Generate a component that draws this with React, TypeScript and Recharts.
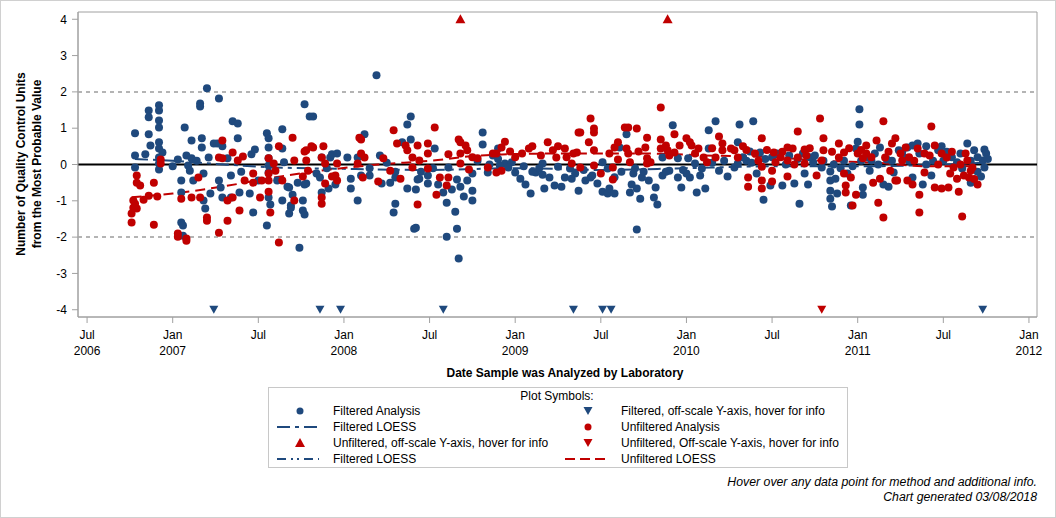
import { ComposedChart, Line, ReferenceArea, ReferenceLine, Scatter, XAxis, YAxis } from "recharts";

const FONT = '"Liberation Sans", Arial, sans-serif';
const BLUE = "#1f497d";
const RED = "#c00000";

// decimal year, units from most probable value
const filteredAnalysis: [number, number][] = [
  [2006.78, 0.86], [2006.78, 0.25], [2006.78, -0.08], [2006.84, 0.28], [2006.86, 1.49], [2006.86, 1.3],
  [2006.86, 0.83], [2006.87, 0.52], [2006.92, 1.63], [2006.92, 1.49], [2006.92, 1.21], [2006.92, 1.02],
  [2006.92, 0.61], [2006.92, 0.44], [2006.92, 0.19], [2006.92, 0.03], [2006.92, -0.14], [2006.94, 0.33],
  [2007.03, 0.14], [2007.07, 1.02], [2007.05, -0.44], [2007.05, -0.77], [2007.05, -1.6], [2007.06, -1.68],
  [2007.06, -1.96], [2007.08, 0.25], [2007.09, -0.03], [2007.1, -0.17], [2007.11, 0.66], [2007.11, 0.17],
  [2007.12, -0.44], [2007.16, 1.68], [2007.16, 1.6], [2007.17, 0.72], [2007.17, 0.47], [2007.18, -0.25],
  [2007.18, -0.99], [2007.19, -1.21], [2007.2, 2.1], [2007.21, 0.19], [2007.22, -0.8], [2007.24, 0.58],
  [2007.26, 0.58], [2007.27, 1.82], [2007.27, -0.44], [2007.28, -0.63], [2007.29, 0.5], [2007.29, -0.91],
  [2007.32, 0.17], [2007.34, -0.3], [2007.34, -0.91], [2007.35, 1.19], [2007.38, 1.13], [2007.38, 0.72],
  [2007.39, -0.77], [2007.45, -0.8], [2007.47, -1.32], [2007.46, 0.28], [2007.48, 0.41], [2007.5, -0.44],
  [2007.55, -1.68], [2007.55, 0.86], [2007.56, 0.72], [2007.56, 0.47], [2007.56, 0.17], [2007.56, -0.91],
  [2007.57, -1.1], [2007.61, -0.44], [2007.64, 0.97], [2007.64, 0.44], [2007.64, -0.99], [2007.65, 0.06],
  [2007.68, -1.35], [2007.68, -0.63], [2007.69, -1.13], [2007.7, -0.83], [2007.74, -2.29], [2007.76, -0.99],
  [2007.76, -1.27], [2007.77, 1.66], [2007.78, -0.52], [2007.8, 1.32], [2007.82, 1.32], [2007.84, -0.25],
  [2007.87, 0.19], [2007.87, -0.77], [2007.92, 0.19], [2007.93, 0.28], [2007.96, 0.3], [2008.02, 0.19],
  [2008.04, -0.66], [2008.08, -0.99], [2008.19, 2.46], [2007.56, -0.03], [2007.56, -0.22], [2007.67, -0.61],
  [2007.69, -1.19], [2007.86, -0.36], [2007.91, -0.66], [2008.04, -0.39], [2008.08, 0.19], [2008.12, 0.83],
  [2008.15, -0.3], [2008.22, -0.52], [2008.21, 0.25], [2008.27, -0.5], [2008.3, -1.08], [2008.29, -1.32],
  [2008.34, 0.61], [2008.37, 1.1], [2008.39, 1.32], [2008.39, 0.69], [2008.42, -0.69], [2008.41, -1.77],
  [2008.43, -0.41], [2008.37, -0.66], [2008.3, -0.36], [2007.77, -1.38], [2007.77, -0.55], [2007.73, -0.5],
  [2008.81, 0.88], [2008.81, 0.55], [2008.53, 0.44], [2008.42, -1.74], [2008.6, -1.99], [2008.66, -1.77],
  [2008.67, -2.59], [2008.65, -1.3], [2008.6, -1.05], [2008.58, -0.77], [2008.63, -0.69], [2008.7, -0.88],
  [2008.75, -0.99], [2008.75, -0.72], [2008.68, -0.61], [2008.72, -0.44], [2008.66, -0.41], [2008.61, -0.08],
  [2008.55, -0.55], [2008.49, -0.52], [2008.44, -0.39], [2008.49, -0.3], [2008.75, -0.25], [2008.84, -0.22],
  [2008.87, 0.25], [2008.9, 0.44], [2008.94, 0.03], [2008.98, 0.06], [2009.0, -0.22], [2009.03, -0.39],
  [2009.06, -0.55], [2009.09, -0.8], [2009.12, -0.22], [2009.16, -0.28], [2009.17, -0.66], [2009.2, -0.36],
  [2009.23, -0.58], [2009.27, -0.61], [2009.29, -0.36], [2009.32, -0.11], [2009.37, -0.72], [2009.33, -0.39],
  [2009.16, 0.03], [2009.25, -0.06], [2008.91, -0.03], [2008.96, -0.08], [2009.35, -0.25], [2009.41, -0.44],
  [2009.44, -0.36], [2009.48, -0.52], [2009.51, -0.75], [2009.54, -0.8], [2009.55, -0.66], [2009.58, -0.8],
  [2009.51, 0.06], [2009.54, -0.11], [2009.61, 0.47], [2009.65, 0.83], [2009.67, -0.77], [2009.68, -0.55],
  [2009.71, -0.66], [2009.71, -1.79], [2009.73, -0.94], [2009.69, -0.25], [2009.74, -0.36], [2009.78, -0.44],
  [2009.81, -0.91], [2009.83, -1.1], [2009.82, -0.63], [2009.86, -0.3], [2009.86, 0.19], [2009.92, 1.08],
  [2009.9, -0.17], [2009.95, 0.17], [2009.95, -0.36], [2009.97, -0.63], [2010.01, 0.17], [2010.02, -0.36],
  [2010.05, 0.03], [2010.06, -0.77], [2010.11, -0.66], [2010.09, -0.11], [2010.13, 0.44], [2010.13, 0.94],
  [2010.17, 1.19], [2010.19, -0.17], [2010.24, -0.33], [2010.3, 0.61], [2010.28, -0.08], [2010.31, 1.1],
  [2010.39, 1.19], [2010.3, 0.03], [2010.37, 0.36], [2010.43, 0.33], [2010.41, -0.25], [2010.45, -0.97],
  [2010.49, -0.58], [2010.56, -0.58], [2010.63, -0.52], [2010.66, -1.08], [2010.69, -0.25], [2010.71, -0.55],
  [2010.74, 0.06], [2010.79, -0.08], [2010.84, -0.19], [2010.84, -0.44], [2010.84, -0.72], [2010.84, -0.94],
  [2010.85, -1.16], [2010.88, -0.8], [2010.87, -0.39], [2010.94, -0.25], [2010.96, -1.13], [2010.99, 0.44],
  [2011.0, 0.63], [2011.01, 1.52], [2011.01, 1.1], [2011.03, -0.63], [2011.03, -0.83], [2011.07, -0.17],
  [2011.08, 0.11], [2011.13, 0.47], [2011.15, -0.55], [2011.18, -0.61], [2011.21, -0.22], [2011.24, 0.39],
  [2011.17, 0.14], [2011.29, 0.47], [2011.32, 0.52], [2011.35, 0.58], [2011.4, 0.5], [2011.32, -0.36],
  [2011.38, -0.55], [2011.43, -0.3], [2011.49, 0.5], [2011.47, 0.39], [2011.58, 0.06], [2011.64, 0.58],
  [2011.68, 0.39], [2011.74, 0.41], [2011.72, -0.33], [2011.74, -0.08], [2011.73, 0.11], [2011.66, -0.5],
  [2011.61, -0.11], [2007.0, -0.05], [2007.14, 0.1], [2007.4, -0.2], [2007.9, -0.1], [2008.15, -0.1],
  [2008.25, 0.05], [2008.45, -0.2], [2008.52, -0.1], [2008.78, 0.1], [2008.85, 0.0], [2009.05, -0.05],
  [2009.14, -0.1], [2009.4, -0.15], [2009.62, -0.2], [2009.7, -0.1], [2009.88, -0.2], [2010.0, -0.25],
  [2010.08, -0.3], [2010.22, 0.1], [2010.35, 0.1], [2010.5, 0.2], [2010.6, 0.25], [2010.72, 0.2],
  [2010.9, -0.1], [2011.05, 0.2], [2011.27, 0.2], [2011.4, 0.0], [2011.5, 0.1], [2011.55, 0.2],
  [2011.7, 0.2], [2011.75, 0.3], [2010.33, 0.2], [2010.38, 0.05], [2010.46, 0.15], [2010.53, 0.3],
  [2010.58, 0.0], [2010.65, 0.15], [2010.68, 0.3], [2010.75, 0.25], [2010.8, 0.1], [2010.86, 0.0],
  [2010.92, 0.1], [2010.97, -0.05], [2011.02, 0.1], [2011.1, 0.3], [2011.12, 0.0], [2011.2, 0.1],
  [2011.26, 0.35], [2011.3, 0.1], [2011.36, 0.3], [2011.44, 0.1], [2011.52, 0.35], [2011.6, 0.3],
  [2011.66, 0.1], [2011.7, -0.2], [2011.76, 0.15], [2009.45, -0.3], [2009.58, -0.35], [2009.75, -0.2],
  [2009.98, -0.15], [2010.15, 0.05], [2008.9, 0.15], [2009.1, -0.2], [2008.3, -0.2], [2008.1, -0.3],
  [2007.95, -0.55],
];

const unfilteredAnalysis: [number, number][] = [
  [2006.76, -1.35], [2006.76, -1.6], [2006.77, -1.19], [2006.77, -0.99], [2006.78, -1.08], [2006.79, -1.21],
  [2006.79, -0.3], [2006.79, -0.5], [2006.81, -0.58], [2006.83, -0.97], [2006.86, -0.86], [2006.89, -0.5],
  [2006.89, -1.66], [2006.91, -0.88], [2006.93, 0.14], [2006.93, 0.03], [2007.03, -1.9], [2007.03, -1.99],
  [2007.05, -0.94], [2007.08, -2.04], [2007.08, -2.1], [2007.11, -0.91], [2007.15, -0.36], [2007.16, -0.91],
  [2007.2, -1.46], [2007.2, -1.55], [2007.27, 0.19], [2007.27, -1.88], [2007.29, 0.66], [2007.29, 0.17],
  [2007.32, -0.99], [2007.32, -1.55], [2007.35, 0.33], [2007.35, -0.91], [2007.38, 0.11], [2007.39, -1.27],
  [2007.41, 0.22], [2007.42, -0.44], [2007.47, -0.25], [2007.47, -0.5], [2007.51, -0.91], [2007.52, -0.44],
  [2007.56, 0.17], [2007.56, -0.25], [2007.56, -0.44], [2007.56, -0.75], [2007.57, -1.32], [2007.59, 0.03],
  [2007.6, -0.17], [2007.62, 0.5], [2007.62, -2.15], [2007.64, -0.44], [2007.7, 0.74], [2007.71, 0.11],
  [2007.71, -0.99], [2007.76, -0.33], [2007.77, 0.36], [2007.78, 0.11], [2007.79, -0.17], [2007.82, 0.47],
  [2007.87, 0.19], [2007.87, -0.91], [2007.87, -1.08], [2007.88, 0.5], [2007.89, 0.03], [2007.89, -0.52],
  [2007.93, -0.33], [2007.96, -0.44], [2007.96, 0.03], [2008.08, 0.03], [2008.09, 0.74], [2007.81, 0.5],
  [2007.78, 0.39], [2007.95, -0.3], [2008.1, 0.69], [2008.1, 0.3], [2008.12, 0.19], [2008.11, -0.36],
  [2008.2, -0.47], [2008.23, 0.17], [2008.27, -0.17], [2008.29, 0.94], [2008.31, 0.58], [2008.33, -0.39],
  [2008.36, 0.52], [2008.37, 0.39], [2008.4, 0.19], [2008.43, 0.52], [2008.43, -1.1], [2008.4, -0.08],
  [2008.53, 1.02], [2008.49, 0.58], [2008.49, 0.3], [2008.44, 0.11], [2008.54, -0.83], [2008.49, -0.11],
  [2008.56, -0.36], [2008.6, -0.58], [2008.61, -0.36], [2008.61, 0.28], [2008.67, 0.69], [2008.68, 0.61],
  [2008.71, 0.52], [2008.72, 0.39], [2008.68, 0.3], [2008.68, 0.03], [2008.73, -0.14], [2008.78, 0.17],
  [2008.87, 0.3], [2008.89, 0.3], [2008.92, 0.47], [2008.94, 0.63], [2008.97, 0.36], [2009.04, 0.3],
  [2009.08, 0.44], [2009.1, 0.5], [2009.19, 0.61], [2009.22, 0.39], [2009.25, 0.5], [2009.24, 0.19],
  [2009.29, 0.44], [2009.33, 0.03], [2009.34, 0.3], [2009.37, 0.88], [2008.84, -0.08], [2008.89, -0.22],
  [2008.92, -0.17], [2009.36, 0.33], [2009.38, -0.08], [2009.38, 0.88], [2009.44, 1.27], [2009.46, 0.88],
  [2009.46, 0.99], [2009.43, 0.61], [2009.46, 0.39], [2009.46, -0.03], [2009.5, -0.25], [2009.57, -0.41],
  [2009.57, -0.08], [2009.58, 0.47], [2009.6, 0.61], [2009.6, 0.14], [2009.64, 1.02], [2009.66, 1.02],
  [2009.65, 0.44], [2009.66, 0.3], [2009.67, 0.06], [2009.71, 0.99], [2009.72, 0.36], [2009.76, 0.47],
  [2009.77, 0.74], [2009.77, 0.17], [2009.77, 0.03], [2009.79, 0.06], [2009.85, 1.57], [2009.85, 0.69],
  [2009.85, 0.44], [2009.88, 0.52], [2009.89, 0.39], [2009.93, 0.83], [2009.93, 0.33], [2009.96, 0.52],
  [2010.0, 0.72], [2010.02, 0.61], [2010.03, 0.52], [2010.07, 0.44], [2010.1, 0.19], [2010.12, 0.06],
  [2010.17, 0.19], [2010.19, 0.77], [2010.21, 0.58], [2010.21, 0.39], [2010.26, 0.44], [2010.28, 0.39],
  [2010.33, 0.5], [2010.3, 0.19], [2010.36, -0.36], [2010.36, -0.61], [2010.44, 0.72], [2010.44, -0.06],
  [2010.44, -0.44], [2010.44, -0.66], [2010.51, 0.33], [2010.52, 0.06], [2010.5, -0.17], [2010.5, -0.47],
  [2010.59, 0.47], [2010.59, 0.11], [2010.59, -0.33], [2010.62, 0.44], [2010.65, 0.91], [2010.65, 0.19],
  [2010.69, 0.41], [2010.69, 0.03], [2010.76, -0.3], [2010.78, 1.27], [2010.79, 0.11], [2010.8, 0.39],
  [2010.8, 0.72], [2010.89, 0.58], [2010.89, 0.19], [2010.92, 0.33], [2010.92, -0.25], [2010.93, -0.58],
  [2010.93, -0.77], [2010.96, -0.36], [2010.97, -1.13], [2010.99, -0.83], [2011.0, 0.3], [2011.03, 0.17],
  [2011.05, 0.52], [2011.09, -0.5], [2011.11, 0.66], [2011.12, -1.05], [2011.13, -0.39], [2011.15, 1.19],
  [2011.15, -1.46], [2011.16, 0.19], [2011.2, 0.58], [2011.22, -0.44], [2011.22, 0.72], [2011.19, -0.17],
  [2011.43, 1.05], [2011.28, 0.47], [2011.35, 0.44], [2011.39, 0.3], [2011.45, 0.52], [2011.49, 0.3],
  [2011.52, 0.19], [2011.26, 0.11], [2011.23, -0.44], [2011.29, -0.44], [2011.32, -0.55], [2011.36, -0.83],
  [2011.36, -1.32], [2011.39, -0.22], [2011.45, -0.63], [2011.49, -0.66], [2011.53, -0.63], [2011.54, -0.25],
  [2011.56, -0.08], [2011.58, -0.39], [2011.59, -0.75], [2011.61, -1.43], [2011.63, 0.3], [2011.64, 0.11],
  [2011.66, -0.17], [2011.65, -0.36], [2011.67, -0.08], [2008.75, 0.2], [2009.0, 0.2], [2009.15, 0.25],
  [2010.4, 0.3], [2010.55, 0.2], [2010.7, 0.25], [2011.05, 0.3], [2011.3, 0.2], [2011.6, 0.0],
  [2010.35, 0.4], [2010.42, 0.1], [2010.47, 0.4], [2010.56, 0.35], [2010.63, 0.0], [2010.72, 0.45],
  [2010.85, 0.35], [2010.95, 0.45], [2011.02, 0.4], [2011.08, 0.2], [2011.18, 0.35], [2011.25, 0.3],
  [2011.33, 0.1], [2011.42, 0.25], [2011.47, 0.0], [2011.55, 0.35], [2011.62, -0.3], [2011.68, -0.4],
  [2011.7, -0.55], [2009.3, 0.2], [2009.55, 0.3], [2009.9, 0.25], [2010.05, 0.3], [2010.15, 0.45],
];

const filteredLoess: [number, number][] = [
  [2006.78, 0.15], [2007.0, 0.1], [2007.3, 0.0], [2007.6, -0.08], [2008.0, -0.12], [2008.5, -0.15],
  [2009.0, -0.1], [2009.5, -0.15], [2010.0, -0.1], [2010.5, -0.05], [2011.0, -0.05], [2011.5, 0.0], [2011.75, 0.05],
];

const unfilteredLoess: [number, number][] = [
  [2006.76, -0.9], [2007.0, -0.8], [2007.3, -0.6], [2007.6, -0.35], [2007.9, -0.15], [2008.2, 0.0],
  [2008.5, 0.1], [2008.8, 0.25], [2009.2, 0.3], [2009.5, 0.3], [2009.8, 0.3], [2010.1, 0.25],
  [2010.5, 0.2], [2010.8, 0.1], [2011.1, 0.05], [2011.4, -0.05], [2011.67, -0.05],
];

// off-scale points, pinned to the axis limits
const unfilteredHigh: [number, number][] = [[2008.68, 4], [2009.89, 4]];
const filteredLow: [number, number][] = [
  [2007.24, -4], [2007.86, -4], [2007.98, -4], [2008.58, -4], [2009.34, -4], [2009.51, -4], [2009.56, -4], [2011.73, -4],
];
const unfilteredLow: [number, number][] = [[2010.79, -4]];

const xTicks = [2006.5, 2007, 2007.5, 2008, 2008.5, 2009, 2009.5, 2010, 2010.5, 2011, 2011.5, 2012];
const xTickMonths = ["Jul", "Jan", "Jul", "Jan", "Jul", "Jan", "Jul", "Jan", "Jul", "Jan", "Jul", "Jan"];
const xTickYears = ["2006", "2007", "", "2008", "", "2009", "", "2010", "", "2011", "", "2012"];
const yTicks = [-4, -3, -2, -1, 0, 1, 2, 3, 4];

const toPoints = (rows: [number, number][]) => rows.map(([x, y]) => ({ x, y }));

const DateTick = ({ x, y, payload }: any) => {
  const i = xTicks.indexOf(payload.value);
  return (
    <g fontFamily={FONT} fontSize={12} fill="#000" textAnchor="middle">
      <text x={x} y={y + 12}>{xTickMonths[i]}</text>
      <text x={x} y={y + 28}>{xTickYears[i]}</text>
    </g>
  );
};

const dot = (color: string) => (p: any) => <circle cx={p.cx} cy={p.cy} r={4} fill={color} />;
const triUp = (color: string) => (p: any) => (
  <path d={`M${p.cx},${p.cy - 5} L${p.cx + 5},${p.cy + 4} L${p.cx - 5},${p.cy + 4} Z`} fill={color} />
);
const triDown = (color: string) => (p: any) => (
  <path d={`M${p.cx - 4.5},${p.cy - 4} L${p.cx + 4.5},${p.cy - 4} L${p.cx},${p.cy + 4} Z`} fill={color} />
);

const legendLeft = [
  { kind: "dot", color: BLUE, label: "Filtered Analysis" },
  { kind: "line", color: BLUE, dash: "13 5 4 5", label: "Filtered LOESS" },
  { kind: "up", color: RED, label: "Unfiltered, off-scale Y-axis, hover for info" },
  { kind: "line", color: BLUE, dash: "9 5 2 4 2 5", label: "Filtered LOESS" },
];
const legendRight = [
  { kind: "down", color: BLUE, label: "Filtered, off-scale Y-axis, hover for info" },
  { kind: "dot", color: RED, label: "Unfiltered Analysis" },
  { kind: "down", color: RED, label: "Unfiltered, Off-scale Y-axis, hover for info" },
  { kind: "line", color: RED, dash: "10 5", label: "Unfiltered LOESS" },
];

function LegendSymbol({ item, cx, cy }: { item: any; cx: number; cy: number }) {
  if (item.kind === "dot") return <circle cx={cx} cy={cy} r={3.5} fill={item.color} />;
  if (item.kind === "up") return triUp(item.color)({ cx, cy });
  if (item.kind === "down") return triDown(item.color)({ cx, cy });
  return <line x1={cx - 23} x2={cx + 19} y1={cy} y2={cy} stroke={item.color} strokeWidth={2} strokeDasharray={item.dash} />;
}

export default function App() {
  const rowY = [411, 427, 443, 459];
  return (
    <div
      style={{
        position: "absolute",
        left: 0,
        top: 0,
        width: 1056,
        height: 518,
        background: "#fff",
        fontFamily: FONT,
      }}
    >
      <div
        style={{
          position: "absolute",
          left: 0,
          top: 0,
          width: 1054,
          height: 516,
          border: "1px solid #d0d0d0",
        }}
      />
      <div style={{ position: "absolute", left: 0, top: 0 }}>
        <ComposedChart width={1056} height={362} margin={{ top: 12, right: 19, bottom: 0, left: 0 }}>
          <XAxis
            dataKey="x"
            type="number"
            domain={[2006.447, 2012.047]}
            ticks={xTicks}
            tick={<DateTick />}
            tickSize={6}
            tickMargin={4}
            height={45}
            stroke="#a0a0a0"
            allowDataOverflow
          />
          <YAxis
            type="number"
            domain={[-4.2, 4.2]}
            ticks={yTicks}
            tickSize={6}
            tickMargin={5}
            width={78}
            stroke="#a0a0a0"
            tick={{ fill: "#000", fontSize: 12, fontFamily: FONT }}
            allowDataOverflow
          />
          <ReferenceArea x1={2006.447} x2={2012.047} y1={-4.2} y2={4.2} fill="none" stroke="#a0a0a0" strokeWidth={1} ifOverflow="visible" />
          <ReferenceLine y={2} stroke="#b4b4b4" strokeWidth={2} strokeDasharray="4 4" />
          <ReferenceLine y={-2} stroke="#b4b4b4" strokeWidth={2} strokeDasharray="4 4" />
          <ReferenceLine y={0} stroke="#000" strokeWidth={2} />
          <Scatter data={toPoints(filteredAnalysis)} dataKey="y" shape={dot(BLUE)} isAnimationActive={false} />
          <Scatter data={toPoints(unfilteredAnalysis)} dataKey="y" shape={dot(RED)} isAnimationActive={false} />
          <Line
            data={toPoints(filteredLoess)}
            dataKey="y"
            type="monotone"
            stroke={BLUE}
            strokeWidth={2}
            strokeDasharray="13 5 4 5"
            dot={false}
            activeDot={false}
            isAnimationActive={false}
          />
          <Line
            data={toPoints(unfilteredLoess)}
            dataKey="y"
            type="monotone"
            stroke={RED}
            strokeWidth={2}
            strokeDasharray="10 6"
            dot={false}
            activeDot={false}
            isAnimationActive={false}
          />
          <Scatter data={toPoints(unfilteredHigh)} dataKey="y" shape={triUp(RED)} isAnimationActive={false} />
          <Scatter data={toPoints(filteredLow)} dataKey="y" shape={triDown(BLUE)} isAnimationActive={false} />
          <Scatter data={toPoints(unfilteredLow)} dataKey="y" shape={triDown(RED)} isAnimationActive={false} />
        </ComposedChart>
      </div>
      <div
        style={{
          position: "absolute",
          left: -101,
          top: 148,
          width: 260,
          height: 32,
          lineHeight: "16px",
          fontSize: 12,
          fontWeight: "bold",
          textAlign: "center",
          transform: "rotate(-90deg)",
          color: "#000",
        }}
      >
        Number of Quality Control Units
        <br />
        from the Most Probable Value
      </div>
      <svg style={{ position: "absolute", left: 0, top: 0 }} width={1056} height={518} pointerEvents="none">
        <text x={565} y={377} textAnchor="middle" fontSize={12} fontWeight="bold" fontFamily={FONT} fill="#000">
          Date Sample was Analyzed by Laboratory
        </text>
        <rect x={268.5} y={387.5} width={579} height={80} fill="none" stroke="#c8c8c8" />
        <text x={557} y={400} textAnchor="middle" fontSize={12} fontFamily={FONT} fill="#000">
          Plot Symbols:
        </text>
        {legendLeft.map((item, i) => (
          <g key={`l${i}`}>
            <LegendSymbol item={item} cx={300} cy={rowY[i]} />
            <text x={333} y={rowY[i] + 4} fontSize={12} fontFamily={FONT} fill="#000">
              {item.label}
            </text>
          </g>
        ))}
        {legendRight.map((item, i) => (
          <g key={`r${i}`}>
            <LegendSymbol item={item} cx={588} cy={rowY[i]} />
            <text x={621} y={rowY[i] + 4} fontSize={12} fontFamily={FONT} fill="#000">
              {item.label}
            </text>
          </g>
        ))}
        <text x={1037} y={486} textAnchor="end" fontSize={12.3} fontStyle="italic" fontFamily={FONT} fill="#000">
          Hover over any data point for method and additional info.
        </text>
        <text x={1037} y={501} textAnchor="end" fontSize={12.3} fontStyle="italic" fontFamily={FONT} fill="#000">
          Chart generated 03/08/2018
        </text>
      </svg>
    </div>
  );
}
